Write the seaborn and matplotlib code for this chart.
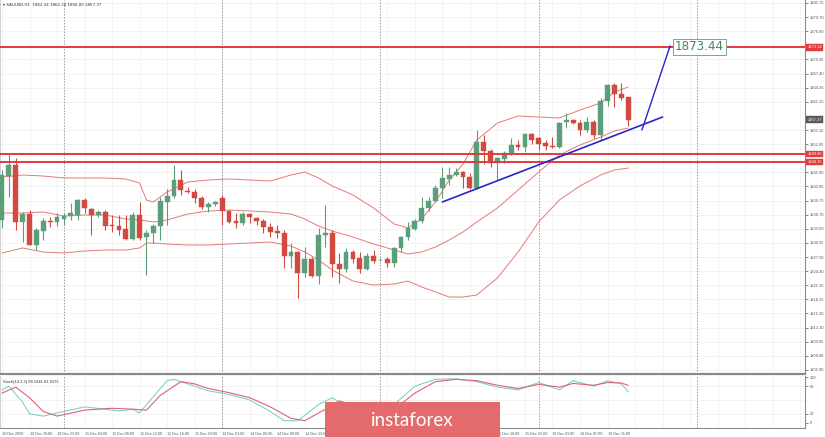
import numpy as np
import pandas as pd
import matplotlib
matplotlib.use("Agg")
import matplotlib.pyplot as plt
import seaborn as sns
from matplotlib.patches import Rectangle

# ---------------- data ----------------
opens = [1835.53, 1845.10, 1847.50, 1835.10, 1836.83, 1830.09, 1833.13, 1835.31, 1835.10, 1835.75,
         1836.40, 1836.62, 1839.88, 1837.92, 1836.62, 1837.27, 1834.44, 1834.22, 1833.57, 1831.39,
         1836.62, 1831.83, 1832.70, 1834.22, 1839.45, 1840.75, 1844.23, 1841.84, 1841.62, 1840.32,
         1838.36, 1839.01, 1840.32, 1837.49, 1835.31, 1834.88, 1836.83, 1835.96, 1835.31, 1834.00,
         1833.13, 1832.70, 1827.70, 1828.56, 1823.99, 1827.04, 1823.34, 1832.26, 1832.70, 1825.95,
         1824.86, 1828.56, 1827.26, 1824.86, 1827.70, 1826.75, 1827.04, 1826.17, 1829.43, 1831.83,
         1833.57, 1835.31, 1838.14, 1839.66, 1842.49, 1844.45, 1845.32, 1845.97, 1844.89, 1842.49,
         1852.50, 1850.54, 1847.93, 1848.80, 1850.11, 1851.85, 1851.41, 1854.24, 1853.37, 1852.28,
         1851.70, 1851.41, 1856.85, 1857.29, 1856.64, 1855.11, 1856.85, 1854.02, 1861.42, 1864.90,
         1862.95, 1862.24]
highs = [1846.50, 1849.89, 1849.02, 1837.27, 1837.70, 1833.79, 1835.96, 1836.18, 1837.05, 1837.00,
         1839.23, 1840.00, 1840.32, 1838.14, 1837.70, 1837.70, 1836.62, 1836.62, 1836.62, 1837.27,
         1839.45, 1833.35, 1834.66, 1840.53, 1842.27, 1847.50, 1846.41, 1842.70, 1842.27, 1840.75,
         1839.45, 1839.66, 1840.97, 1837.70, 1837.05, 1837.27, 1837.05, 1836.18, 1835.75, 1834.88,
         1834.40, 1833.35, 1830.52, 1828.80, 1829.65, 1827.50, 1833.79, 1838.79, 1833.35, 1828.35,
         1829.43, 1829.00, 1828.56, 1828.35, 1829.00, 1827.20, 1827.48, 1829.65, 1832.05, 1835.09,
         1835.75, 1840.53, 1840.53, 1843.14, 1847.06, 1847.06, 1846.84, 1846.19, 1845.76, 1855.11,
         1854.02, 1850.98, 1849.24, 1850.54, 1853.37, 1852.94, 1854.46, 1854.46, 1853.59, 1852.94,
         1853.59, 1856.85, 1858.81, 1857.50, 1857.29, 1857.94, 1857.29, 1862.08, 1865.12, 1865.34,
         1865.34, 1862.24]
lows = [1833.79, 1840.53, 1833.35, 1830.74, 1830.00, 1829.00, 1831.18, 1834.00, 1834.22, 1834.40,
        1835.53, 1835.53, 1837.05, 1832.26, 1836.20, 1833.35, 1832.92, 1832.26, 1831.18, 1831.18,
        1831.18, 1823.56, 1830.52, 1831.18, 1834.44, 1840.32, 1840.97, 1841.40, 1839.23, 1837.92,
        1837.27, 1838.57, 1834.44, 1834.90, 1833.79, 1834.44, 1834.88, 1834.44, 1832.70, 1831.83,
        1831.60, 1825.08, 1825.08, 1818.56, 1823.12, 1823.12, 1821.60, 1829.65, 1823.12, 1821.82,
        1824.21, 1826.17, 1823.99, 1824.65, 1826.17, 1826.60, 1825.30, 1825.30, 1828.56, 1831.18,
        1833.35, 1834.88, 1837.49, 1839.45, 1840.32, 1843.14, 1845.10, 1842.49, 1842.27, 1842.27,
        1847.71, 1847.06, 1844.23, 1847.93, 1849.67, 1850.76, 1850.33, 1852.07, 1850.76, 1850.76,
        1851.20, 1851.20, 1855.55, 1856.40, 1854.02, 1854.68, 1853.37, 1852.94, 1860.33, 1860.12,
        1861.64, 1856.00]
closes = [1845.32, 1847.50, 1835.10, 1836.83, 1830.09, 1833.35, 1835.31, 1835.10, 1836.18, 1836.40,
          1837.05, 1839.88, 1838.14, 1836.62, 1837.27, 1834.22, 1834.22, 1833.35, 1831.39, 1836.62,
          1831.61, 1832.70, 1834.22, 1839.66, 1840.75, 1844.23, 1842.06, 1841.62, 1840.32, 1838.36,
          1839.01, 1839.45, 1837.49, 1835.10, 1834.88, 1836.83, 1836.18, 1835.31, 1834.00, 1832.92,
          1832.70, 1827.70, 1828.56, 1823.99, 1827.04, 1823.34, 1832.26, 1832.70, 1825.95, 1824.86,
          1828.56, 1827.04, 1824.86, 1827.70, 1826.61, 1826.90, 1826.17, 1829.43, 1831.83, 1833.79,
          1835.31, 1838.14, 1839.66, 1842.49, 1844.67, 1845.32, 1845.97, 1844.89, 1842.49, 1852.50,
          1850.54, 1847.93, 1849.02, 1850.11, 1851.85, 1851.41, 1854.24, 1852.94, 1852.07, 1851.63,
          1851.50, 1856.64, 1857.29, 1856.64, 1855.11, 1856.85, 1854.02, 1861.42, 1864.90, 1862.95,
          1862.08, 1857.37]

# Bollinger bands (20,2) read at selected bars
bb_bars = [0, 3, 6, 9, 12, 15, 18, 20, 21, 22, 24, 27, 30, 33, 36, 39, 42, 44, 46, 48,
           51, 54, 57, 59, 61, 63, 65, 67, 69, 72, 75, 78, 81, 84, 87, 89, 91]
bb_upper = [1844.88, 1845.32, 1845.10, 1844.67, 1844.67, 1844.67, 1844.45, 1843.58, 1839.88, 1839.45,
            1841.62, 1843.80, 1844.23, 1844.45, 1844.23, 1844.01, 1845.32, 1845.97, 1844.67, 1842.93,
            1840.97, 1838.14, 1834.66, 1833.79, 1835.75, 1839.45, 1844.23, 1847.71, 1852.94, 1856.64,
            1858.16, 1857.94, 1857.72, 1859.46, 1860.99, 1863.38, 1864.47]
bb_middle = [1837.05, 1837.05, 1837.27, 1836.40, 1836.62, 1836.62, 1835.75, 1835.53, 1835.31, 1835.09,
             1835.53, 1836.83, 1837.49, 1837.70, 1837.49, 1837.27, 1836.83, 1835.75, 1834.22, 1833.13,
             1831.83, 1830.31, 1829.00, 1828.13, 1828.56, 1829.65, 1831.18, 1832.92, 1835.09, 1838.14,
             1842.06, 1845.97, 1849.67, 1851.85, 1853.59, 1854.89, 1855.55]
bb_lower = [1828.35, 1829.44, 1828.56, 1828.35, 1828.78, 1829.00, 1829.00, 1829.44, 1830.52, 1830.52,
            1830.31, 1830.09, 1830.09, 1830.31, 1830.52, 1830.74, 1829.87, 1828.56, 1826.82, 1824.65,
            1822.25, 1821.38, 1821.60, 1822.25, 1820.95, 1819.86, 1818.77, 1818.77, 1819.21, 1822.91,
            1828.56, 1835.09, 1839.88, 1842.93, 1845.32, 1846.41, 1846.84]

# Stochastic (14,3,3)
k_bars = [0, 1, 3, 4, 6, 9, 12, 15, 17, 19, 20, 21, 24, 25, 27, 30, 33, 36, 39, 41,
          43, 46, 48, 50, 52, 55, 57, 60, 63, 66, 69, 72, 75, 78, 81, 83, 86, 88, 90, 91]
k_vals = [72, 80, 45, 20, 15, 25, 35, 30, 26, 30, 22, 40, 92, 95, 85, 70, 62, 50, 25, 5,
          5, 40, 55, 35, 25, 20, 40, 80, 95, 96, 90, 78, 72, 88, 72, 92, 80, 92, 85, 68.19]
d_bars = [0, 2, 4, 6, 8, 12, 16, 19, 21, 23, 26, 28, 30, 33, 36, 39, 42, 44, 47, 49,
          51, 54, 57, 60, 63, 66, 69, 72, 75, 78, 81, 83, 86, 88, 90, 91]
d_vals = [65, 78, 55, 25, 15, 28, 32, 30, 28, 60, 90, 85, 75, 66, 55, 35, 10, 5, 30, 48,
          40, 25, 30, 65, 90, 95, 92, 82, 75, 84, 78, 86, 82, 88, 87, 81.94]

# levels and annotations
level_prices = [1873.14, 1849.90, 1848.15]
level_labels = ["1873.14", "1849.90", "1848.15"]
close_label = "1857.37"
trend_x = [64, 96]
trend_y = [1839.45, 1857.94]
proj_x = [93, 97.1]
proj_y = [1855.11, 1873.44]
target_label = "1873.44"

# right price scale (labels hidden behind the price boxes are omitted)
ytick_vals = [1882.75, 1879.68, 1876.61, 1870.47, 1867.40, 1864.32, 1861.25,
              1855.11, 1852.04, 1845.90, 1842.83, 1839.76, 1836.68, 1833.61, 1830.54,
              1827.47, 1824.40, 1821.33, 1818.26, 1815.19, 1812.12, 1809.04, 1805.97, 1802.90]
ytick_labels = ["1882.75", "1879.70", "1876.60", "1870.50", "1867.40", "1864.35",
                "1861.25", "1855.10", "1852.05", "1845.90", "1842.85",
                "1839.75", "1836.70", "1833.60", "1830.55", "1827.50", "1824.40", "1821.35",
                "1818.25", "1815.20", "1812.10", "1809.05", "1806.00", "1802.90"]
xtick_bars = list(range(0, 92, 4))
xtick_labels = ["10 Dec 2020", "10 Dec 19:00", "10 Dec 23:00", "11 Dec 04:00", "11 Dec 08:00",
                "11 Dec 12:00", "11 Dec 16:00", "11 Dec 20:00", "14 Dec 01:00", "14 Dec 05:00",
                "14 Dec 09:00", "14 Dec 13:00", "14 Dec 17:00", "14 Dec 21:00", "15 Dec 02:00",
                "15 Dec 06:00", "15 Dec 10:00", "15 Dec 14:00", "15 Dec 18:00", "15 Dec 22:00",
                "16 Dec 03:00", "16 Dec 07:00", "16 Dec 11:00"]
day_sep_bars = [9, 32, 55, 78, 101]
header = "XAUUSD,H1  1862.24 1862.24 1856.00 1857.37"
stoch_header = "Stoch(14,3,3) 68.1941 81.9375"

# ---------------- style ----------------
sns.set_style("white")
plt.rcParams['font.family'] = ['Liberation Sans', 'DejaVu Sans']

W, H = 825, 437
fig = plt.figure(figsize=(W / 100, H / 100), dpi=100)
fig.patch.set_facecolor("white")

main_top, main_bot = 0, 374
st_top, st_bot = 376, 428
ax = fig.add_axes([0, 1 - main_bot / H, 805 / W, (main_bot - main_top) / H])
ax2 = fig.add_axes([0, 1 - st_bot / H, 805 / W, (st_bot - st_top) / H], sharex=ax)

XMIN, XMAX = -0.29, 116.7
ax.set_xlim(XMIN, XMAX)
ax.set_ylim(1802.02, 1883.40)
ax2.set_ylim(-10.9, 102.2)

BULL = "#5d9e7a"
BEAR = "#d2493f"
LEVEL = "#e23b3b"
BAND = "#e47a74"
BLUE = "#2626c9"

# grid
for v in ytick_vals:
    ax.axhline(v, color="#efefef", lw=0.5, zorder=0)
for b in xtick_bars + [92, 96, 100, 104, 108, 112, 116]:
    ax.axvline(b, color="#efefef", lw=0.5, zorder=0)
    ax2.axvline(b, color="#efefef", lw=0.5, zorder=0)
for v in [20, 50, 80]:
    ax2.axhline(v, color="#efefef", lw=0.5, zorder=0)
for b in day_sep_bars:
    ax.axvline(b, color="#9a9a9a", lw=0.7, ls=(0, (1.5, 1.5)), zorder=1)
    ax2.axvline(b, color="#9a9a9a", lw=0.7, ls=(0, (1.5, 1.5)), zorder=1)

# Bollinger bands
for arr in (bb_upper, bb_middle, bb_lower):
    sns.lineplot(x=bb_bars, y=arr, ax=ax, color=BAND, lw=0.7, zorder=2)

# candles
o = np.array(opens); h = np.array(highs); l = np.array(lows); c = np.array(closes)
xs = np.arange(len(o))
cols = [BULL if cc >= oo else BEAR for oo, cc in zip(o, c)]
ax.vlines(xs, l, h, colors=cols, lw=0.8, zorder=3)
ax.bar(xs, np.maximum(np.abs(c - o), 0.15), bottom=np.minimum(o, c), width=0.7,
       color=cols, edgecolor=cols, linewidth=0.3, zorder=4)

# horizontal levels
for p in level_prices:
    ax.axhline(p, color=LEVEL, lw=1.4, zorder=5)

# trend lines
sns.lineplot(x=trend_x, y=trend_y, ax=ax, color=BLUE, lw=1.2, zorder=6)
sns.lineplot(x=proj_x, y=proj_y, ax=ax, color=BLUE, lw=1.0, zorder=6)
ax.text(proj_x[1] + 0.7, proj_y[1] - 0.25, target_label, fontsize=8.6, color="#3d8a5c",
        family="DejaVu Sans", ha="left", va="center", zorder=8,
        bbox=dict(boxstyle="square,pad=0.15", fc="white", ec="#5a9e78", lw=0.6))

# right axis labels
ax.yaxis.tick_right()
ax.set_yticks(ytick_vals)
ax.set_yticklabels(ytick_labels)
ax.tick_params(axis="y", length=2, width=0.5, pad=1.5, labelsize=2.9, colors="#555555",
               right=True, left=False)
ax.tick_params(axis="x", length=0, labelbottom=False)
ax.set_xticks(xtick_bars)
ax.set_xlabel(""); ax.set_ylabel("")

# price boxes on right axis
trans = ax.get_yaxis_transform()
for p, lab in zip(level_prices, level_labels):
    ax.text(1.003, p, lab, transform=trans, fontsize=2.9, color="white", ha="left", va="center",
            zorder=20, clip_on=False,
            bbox=dict(boxstyle="square,pad=0.35", fc=LEVEL, ec=LEVEL, lw=0.3))
ax.text(1.003, closes[-1], close_label, transform=trans, fontsize=2.9, color="white", ha="left",
        va="center", zorder=20, clip_on=False,
        bbox=dict(boxstyle="square,pad=0.35", fc="#5a5a5a", ec="#5a5a5a", lw=0.3))

# stochastic
sns.lineplot(x=k_bars, y=k_vals, ax=ax2, color="#7fd3c3", lw=0.8, zorder=3)
sns.lineplot(x=d_bars, y=d_vals, ax=ax2, color="#e06272", lw=0.8, zorder=4)
ax2.yaxis.tick_right()
ax2.set_yticks([100, 80, 20, 0])
ax2.set_yticklabels(["100", "80", "20", "0"])
ax2.tick_params(axis="y", length=2, width=0.5, pad=1.5, labelsize=2.9, colors="#555555",
                right=True, left=False)
ax2.set_xticks(xtick_bars)
ax2.set_xticklabels(xtick_labels, ha="left")
ax2.tick_params(axis="x", length=2, width=0.5, pad=1.2, labelsize=2.7, colors="#555555")
ax2.set_xlabel(""); ax2.set_ylabel("")
ax2.text(0.004, 0.93, stoch_header, transform=ax2.transAxes, fontsize=2.9, color="#333333",
         ha="left", va="top")

for a in (ax, ax2):
    a.spines["top"].set_visible(False)
    a.spines["left"].set_color("#c8c8c8"); a.spines["left"].set_linewidth(0.6)
    a.spines["right"].set_color("#8a8a8a"); a.spines["right"].set_linewidth(0.8)
ax.spines["bottom"].set_color("#8a8a8a"); ax.spines["bottom"].set_linewidth(1.6)
ax2.spines["bottom"].set_color("#8a8a8a"); ax2.spines["bottom"].set_linewidth(0.8)

# header
fig.text(3 / W, 1 - 5 / H, "\u25be " + header, fontsize=2.9, color="#333333", ha="left",
         va="center", family=["DejaVu Sans"])

# logo
fig.patches.append(Rectangle((325 / W, 0), 175 / W, 35 / H, transform=fig.transFigure,
                             fc="#e46b6b", ec="none", zorder=30))
fig.text(412 / W, 1 - 420 / H, "instaforex", fontsize=13.5, color="white", ha="center",
         va="center", family=["Lato", "DejaVu Sans"], zorder=31)

fig.savefig("out.png", dpi=100, facecolor="white")
